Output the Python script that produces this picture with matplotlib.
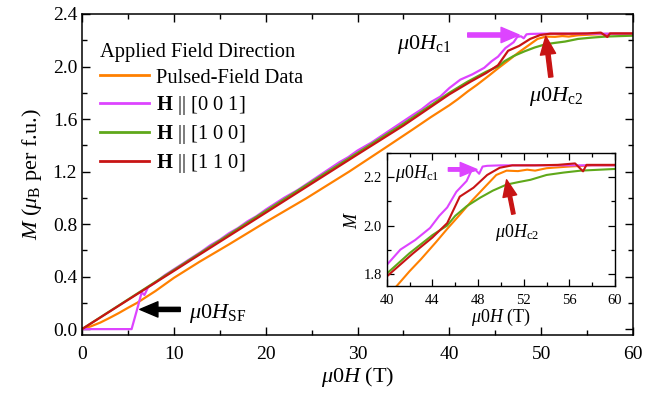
import matplotlib
matplotlib.use("Agg")
import matplotlib.pyplot as plt
from matplotlib.ticker import MultipleLocator, FormatStrFormatter

plt.rcParams['font.family'] = ['Liberation Serif', 'DejaVu Serif']
plt.rcParams['mathtext.fontset'] = 'custom'
plt.rcParams['mathtext.rm'] = 'Liberation Serif'
plt.rcParams['mathtext.it'] = 'Liberation Serif:italic'
plt.rcParams['mathtext.bf'] = 'Liberation Serif:bold'

# ---------------- data ----------------
H_pulsed = [0, 1, 2, 3, 4, 5, 6, 8, 10, 12.8, 16, 20, 24.4, 29.1, 33, 36, 38, 40, 40.9, 42, 43,
            44.3, 45.3, 46.5, 47.5, 48.2, 49, 49.6, 50.5, 51.5, 52.3, 53, 54, 54.5, 56, 58, 60]
M_pulsed = [0, 0.022, 0.05, 0.085, 0.122, 0.162, 0.2, 0.29, 0.39, 0.513, 0.645, 0.815, 0.995, 1.20,
            1.38, 1.52, 1.615, 1.705, 1.75, 1.81, 1.86, 1.93, 1.986, 2.05, 2.105, 2.14, 2.18, 2.21,
            2.228, 2.226, 2.232, 2.228, 2.238, 2.24, 2.245, 2.25, 2.25]

H_001 = [0, 5.4, 6.0, 6.5, 6.8, 7.2, 8, 9, 10, 11, 12, 13, 14, 15, 16, 17, 18, 19, 20, 21, 22, 23.5,
         25, 26.5, 28, 29, 30, 31.5, 33, 34.5, 36, 37, 38, 39, 40, 41.2, 42.5, 43.8, 44.6, 45.3,
         46.1, 47.0, 47.4, 47.8, 48.1, 48.4, 48.8, 50, 55, 60]
M_001 = [0, 0, 0.15, 0.28, 0.26, 0.32, 0.355, 0.41, 0.455, 0.50, 0.545, 0.59, 0.64, 0.68, 0.73,
         0.77, 0.82, 0.86, 0.91, 0.955, 1.0, 1.06, 1.13, 1.20, 1.27, 1.31, 1.36, 1.42, 1.49, 1.56,
         1.63, 1.675, 1.73, 1.77, 1.836, 1.90, 1.94, 1.99, 2.04, 2.075, 2.14, 2.185, 2.226, 2.23,
         2.215, 2.245, 2.248, 2.25, 2.25, 2.25]

H_100 = [0, 5, 10, 15, 20, 25, 30, 35, 40, 42, 44, 45.3, 46, 47, 48.2, 49.3, 50.5, 51.5, 52.6,
         54, 55.5, 57, 60]
M_100 = [0, 0.225, 0.45, 0.675, 0.9, 1.122, 1.343, 1.565, 1.80, 1.885, 1.96, 2.0, 2.04, 2.08,
         2.116, 2.145, 2.17, 2.18, 2.19, 2.21, 2.22, 2.228, 2.235]

H_110 = [0, 5, 10, 15, 20, 25, 30, 35, 40, 42.3, 44, 45.3, 46.4, 47.6, 48.8, 49.9, 51, 53, 55,
         56.5, 57.2, 57.5, 60]
M_110 = [0, 0.222, 0.443, 0.665, 0.886, 1.108, 1.33, 1.55, 1.788, 1.884, 1.95, 2.01, 2.12, 2.157,
         2.21, 2.24, 2.25, 2.25, 2.252, 2.258, 2.225, 2.252, 2.252]

labels = ['Pulsed-Field Data', r'$\mathbf{H}$ || [0 0 1]', r'$\mathbf{H}$ || [1 0 0]',
          r'$\mathbf{H}$ || [1 1 0]']
colors = ['#FF8000', '#DD44FF', '#5FA81A', '#C81414']
series = [(H_pulsed, M_pulsed), (H_001, M_001), (H_100, M_100), (H_110, M_110)]

MU0H = r'$\mu\mathit{0}H$'

# ---------------- figure ----------------
fig = plt.figure(figsize=(6.57, 3.94), dpi=100)
ax = fig.add_axes([0.1248, 0.1497, 0.8387, 0.8148])

for (h, m), c, lab in zip(series, colors, labels):
    ax.plot(h, m, color=c, lw=1.6, label=lab)

ax.set_xlim(0, 60)
ax.set_ylim(-0.045, 2.4)
ax.xaxis.set_major_locator(MultipleLocator(10))
ax.xaxis.set_minor_locator(MultipleLocator(5))
ax.yaxis.set_major_locator(MultipleLocator(0.4))
ax.yaxis.set_minor_locator(MultipleLocator(0.2))
ax.yaxis.set_major_formatter(FormatStrFormatter('%.1f'))
ax.tick_params(which='both', direction='in', top=True, right=True, labelsize=14, width=1.0)
ax.tick_params(which='major', length=6)
ax.tick_params(which='minor', length=3.5)
ax.tick_params(axis='x', pad=8)
for s in ax.spines.values():
    s.set_linewidth(1.1)
ax.set_xlabel(MU0H + ' (T)', fontsize=16, labelpad=1)
ax.set_ylabel(r'$M$ ($\mu_\mathrm{B}$ per f.u.)', fontsize=16, labelpad=6)

leg = ax.legend(loc='upper left', bbox_to_anchor=(0.018, 0.935), frameon=False, fontsize=14.8,
                title='Applied Field Direction', title_fontsize=14.8, handlelength=2.4,
                handletextpad=0.3, labelspacing=0.3, borderaxespad=0, alignment='left')
for l in leg.get_lines():
    l.set_linewidth(2)

arrow_kw = dict(width=3, headwidth=11, headlength=13, shrink=0)
ax.annotate('', xy=(6.3, 0.15), xytext=(10.7, 0.15),
            arrowprops=dict(color='black', **arrow_kw))
ax.text(11.7, 0.12, r'$\mu\mathit{0}H_{\mathrm{SF}}$', fontsize=16, va='center', ha='left')
ax.annotate('', xy=(47.6, 2.24), xytext=(42.0, 2.24),
            arrowprops=dict(color='#DD44FF', **arrow_kw))
ax.text(40.2, 2.165, r'$\mu\mathit{0}H_{\mathrm{c1}}$', fontsize=16, va='center', ha='right')
ax.annotate('', xy=(50.5, 2.23), xytext=(51.05, 1.92),
            arrowprops=dict(color='#C81414', **arrow_kw))
ax.text(48.7, 1.77, r'$\mu\mathit{0}H_{\mathrm{c2}}$', fontsize=16, va='center', ha='left')

# ---------------- inset ----------------
ins = fig.add_axes([0.5886, 0.2749, 0.3475, 0.3360])
for (h, m), c in zip(series, colors):
    ins.plot(h, m, color=c, lw=1.5)
ins.set_xlim(40, 60)
ins.set_ylim(1.75, 2.3)
ins.xaxis.set_major_locator(MultipleLocator(4))
ins.xaxis.set_minor_locator(MultipleLocator(2))
ins.yaxis.set_major_locator(MultipleLocator(0.2))
ins.yaxis.set_minor_locator(MultipleLocator(0.1))
ins.yaxis.set_major_formatter(FormatStrFormatter('%.1f'))
ins.tick_params(which='both', direction='in', top=True, right=True, labelsize=10.5, width=0.9)
ins.tick_params(which='major', length=5)
ins.tick_params(which='minor', length=3)
ins.tick_params(axis='x', pad=6)
for s in ins.spines.values():
    s.set_linewidth(1.0)
ins.set_xlabel(MU0H + ' (T)', fontsize=13, labelpad=0)
ins.set_ylabel(r'$M$', fontsize=13, labelpad=2)

arrow_kw2 = dict(width=2.5, headwidth=10, headlength=12, shrink=0)
ins.annotate('', xy=(47.9, 2.233), xytext=(45.4, 2.233),
             arrowprops=dict(color='#DD44FF', **arrow_kw2))
ins.text(40.7, 2.215, r'$\mu\mathit{0}H_{\mathrm{c1}}$', fontsize=13, va='center', ha='left')
ins.annotate('', xy=(50.5, 2.19), xytext=(51.1, 2.048),
             arrowprops=dict(color='#C81414', **arrow_kw2))
ins.text(49.5, 1.97, r'$\mu\mathit{0}H_{\mathrm{c2}}$', fontsize=13, va='center', ha='left')

fig.savefig('out.png', dpi=100)
